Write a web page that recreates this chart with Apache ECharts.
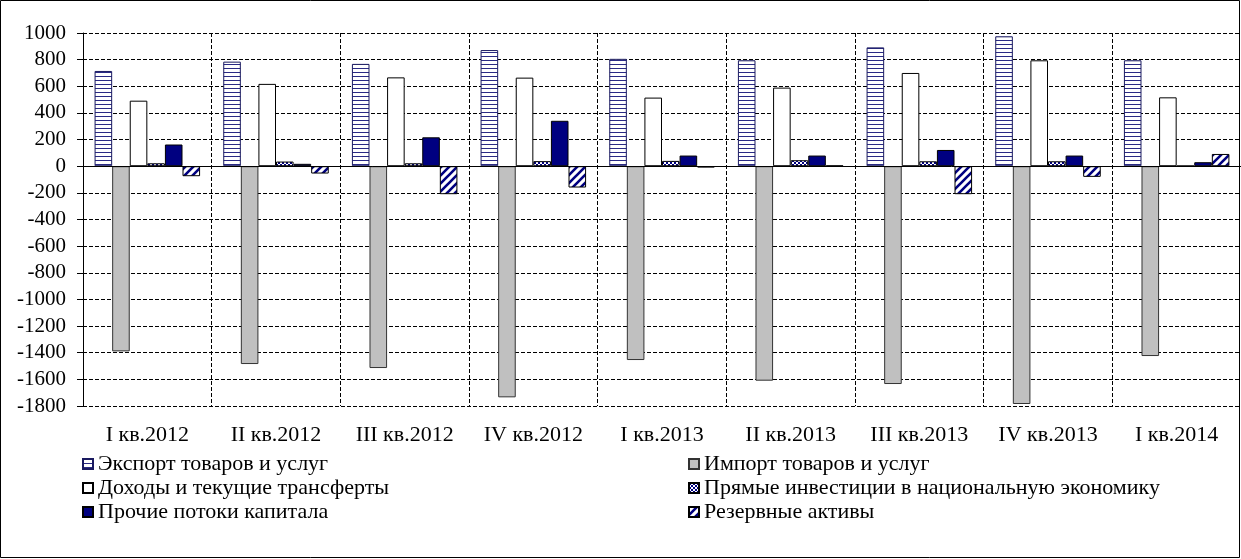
<!DOCTYPE html>
<html>
<head>
<meta charset="utf-8">
<script src="https://cdn.jsdelivr.net/npm/echarts@6/dist/echarts.min.js"></script>
<style>
html,body{margin:0;padding:0;background:#fff;}
#chart{width:1241px;height:559px;}
</style>
</head>
<body>
<div id="chart"></div>
<script>
const categories = ['I кв.2012','II кв.2012','III кв.2012','IV кв.2012','I кв.2013','II кв.2013','III кв.2013','IV кв.2013','I кв.2014'];
const seriesNames = ['Экспорт товаров и услуг','Импорт товаров и услуг','Доходы и текущие трансферты','Прямые инвестиции в национальную экономику','Прочие потоки капитала','Резервные активы'];
const exportVals   = [715, 785, 768, 872, 806, 795, 892, 975, 795];
const importVals   = [-1390, -1485, -1515, -1735, -1455, -1610, -1635, -1785, -1425];
const incomeVals   = [492, 618, 667, 665, 515, 590, 700, 795, 517];
const fdiVals      = [22, 35, 22, 38, 40, 45, 37, 37, 3];
const otherVals    = [163, 18, 217, 341, 80, 80, 122, 80, 30];
const reserveVals  = [-75, -55, -210, -160, -10, 5, -210, -80, 92];
const yTicks = { min: -1800, max: 1000, interval: 200 };

const FONT = "Liberation Serif, Times New Roman, serif";
const NAVY = '#000080';

function makePattern(kind) {
  const c = document.createElement('canvas');
  const ctx = c.getContext('2d');
  if (kind === 'hstripe') {
    c.width = 4; c.height = 4;
    ctx.fillStyle = '#fff'; ctx.fillRect(0, 0, 4, 4);
    ctx.fillStyle = '#2a2a85'; ctx.fillRect(0, 0, 4, 1);
  } else if (kind === 'diag') {
    c.width = 8; c.height = 8;
    ctx.fillStyle = '#fff'; ctx.fillRect(0, 0, 8, 8);
    ctx.strokeStyle = NAVY; ctx.lineWidth = 2.6;
    ctx.beginPath();
    ctx.moveTo(-2, 10); ctx.lineTo(10, -2);
    ctx.moveTo(-6, 6); ctx.lineTo(6, -6);
    ctx.moveTo(2, 14); ctx.lineTo(14, 2);
    ctx.stroke();
  } else if (kind === 'dots') {
    c.width = 4; c.height = 4;
    ctx.fillStyle = '#fff'; ctx.fillRect(0, 0, 4, 4);
    ctx.fillStyle = NAVY;
    ctx.fillRect(0, 0, 2, 2); ctx.fillRect(2, 2, 2, 2);
  }
  return { image: c, repeat: 'repeat' };
}

const styles = [
  { color: makePattern('hstripe'), borderColor: '#1a1a60', borderWidth: 1 },
  { color: '#c0c0c0', borderColor: '#333', borderWidth: 1 },
  { color: '#ffffff', borderColor: '#000', borderWidth: 1 },
  { color: makePattern('dots'), borderColor: '#000', borderWidth: 1 },
  { color: NAVY, borderColor: '#000', borderWidth: 1 },
  { color: makePattern('diag'), borderColor: '#000', borderWidth: 1 }
];
const dataSets = [exportVals, importVals, incomeVals, fdiVals, otherVals, reserveVals];

const series = dataSets.map((d, i) => {
  const s = {
    name: seriesNames[i],
    type: 'bar',
    data: d,
    barGap: '0%',
    barCategoryGap: '18%',
    itemStyle: styles[i],
    emphasis: { disabled: true },
    animation: false
  };
  if (i === 0) {
    s.markLine = {
      silent: true, symbol: 'none', animation: false,
      label: { show: false },
      lineStyle: { color: '#000', type: 'solid', width: 1 },
      data: [{ yAxis: 0 }]
    };
  }
  return s;
});

const legendText = { fontFamily: FONT, fontSize: 22, color: '#000', lineHeight: 22 };
const chart = echarts.init(document.getElementById('chart'), null, { renderer: 'canvas' });
chart.setOption({
  animation: false,
  backgroundColor: '#fff',
  grid: { left: 83, top: 33, right: -6, bottom: 153, containLabel: false },
  legend: [
    { left: 77, top: 448, orient: 'vertical', icon: 'rect', itemWidth: 10, itemHeight: 10, itemGap: 2,
      data: [seriesNames[0], seriesNames[2], seriesNames[4]], textStyle: legendText, selectedMode: false },
    { left: 683, top: 448, orient: 'vertical', icon: 'rect', itemWidth: 10, itemHeight: 10, itemGap: 2,
      data: [seriesNames[1], seriesNames[3], seriesNames[5]], textStyle: legendText, selectedMode: false }
  ],
  xAxis: {
    type: 'category',
    data: categories,
    position: 'bottom',
    axisLine: { show: false, onZero: false },
    axisTick: { show: false },
    axisLabel: { fontFamily: FONT, fontSize: 22, color: '#000', margin: 18, interval: 0, hideOverlap: false },
    splitLine: { show: true, interval: 0, lineStyle: { color: '#000', type: [4, 2], width: 1 } }
  },
  yAxis: {
    type: 'value',
    min: yTicks.min, max: yTicks.max, interval: yTicks.interval,
    axisLine: { show: true, lineStyle: { color: '#000', width: 1 } },
    axisTick: { show: true, length: 6, lineStyle: { color: '#000' } },
    axisLabel: { fontFamily: FONT, fontSize: 21, color: '#000', margin: 17,
      formatter: v => String(v) },
    splitLine: { show: true, lineStyle: { color: '#000', type: [4, 2], width: 1 } }
  },
  graphic: [{
    type: 'rect', silent: true, z: 100,
    shape: { x: 0.5, y: 0.5, width: 1239, height: 557 },
    style: { fill: 'none', stroke: '#000', lineWidth: 1 }
  }],
  series: series
});
</script>
</body>
</html>
